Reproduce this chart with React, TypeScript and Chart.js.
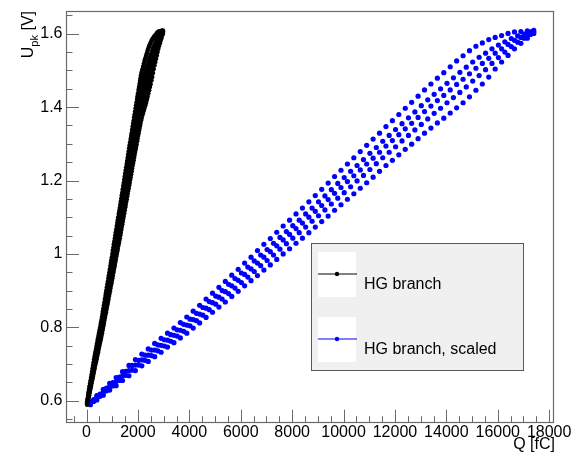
import React, { useEffect, useRef } from 'react';
import { Chart, registerables } from 'chart.js';

Chart.register(...registerables);

const FONT = '"Liberation Sans", Arial, Helvetica, sans-serif';

// Injected charge, HG branch [fC]
const Q_BLACK = [
  23, 42, 62, 81, 100, 119, 138, 158, 177, 196, 215, 235, 254, 273, 292, 312, 331, 350, 369, 389,
  408, 427, 446, 466, 485, 504, 523, 543, 562, 581, 600, 619, 638, 658, 677, 696, 715, 735, 754, 773,
  792, 812, 831, 850, 869, 889, 908, 927, 946, 966, 985, 1004, 1023, 1043, 1062, 1081, 1100, 1119, 1138, 1158,
  1177, 1196, 1215, 1235, 1254, 1273, 1292, 1312, 1331, 1350, 1369, 1389, 1408, 1427, 1446, 1466, 1485, 1504, 1523, 1543,
  1562, 1581, 1600, 1619, 1638, 1658, 1677, 1696, 1715, 1735, 1754, 1773, 1792, 1812, 1831, 1850, 1869, 1889, 1908, 1927,
  1946, 1966, 1985, 2004, 2023, 2043, 2062, 2081, 2100, 2119, 2138, 2168, 2198, 2228, 2257, 2287, 2317, 2347, 2376, 2406,
  2435, 2465, 2495, 2525, 2554, 2584, 2614, 2644, 2673, 2703, 2733, 2763, 2792, 2822, 2851, 2881, 2911, 2941, 2970,
];

// Injected charge, HG branch scaled [fC]
const Q_BLUE = [
  150, 275, 400, 525, 650, 775, 900, 1025, 1150, 1275, 1400, 1525, 1650, 1775, 1900, 2025, 2150, 2275, 2400, 2525,
  2650, 2775, 2900, 3025, 3150, 3275, 3400, 3525, 3650, 3775, 3900, 4025, 4150, 4275, 4400, 4525, 4650, 4775, 4900, 5025,
  5150, 5275, 5400, 5525, 5650, 5775, 5900, 6025, 6150, 6275, 6400, 6525, 6650, 6775, 6900, 7025, 7150, 7275, 7400, 7525,
  7650, 7775, 7900, 8025, 8150, 8275, 8400, 8525, 8650, 8775, 8900, 9025, 9150, 9275, 9400, 9525, 9650, 9775, 9900, 10025,
  10150, 10275, 10400, 10525, 10650, 10775, 10900, 11025, 11150, 11275, 11400, 11525, 11650, 11775, 11900, 12025, 12150, 12275, 12400, 12525,
  12650, 12775, 12900, 13025, 13150, 13275, 13400, 13525, 13650, 13775, 13900, 14025, 14150, 14275, 14400, 14525, 14650, 14775, 14900, 15025,
  15150, 15275, 15400, 15525, 15650, 15775, 15900, 16025, 16150, 16275, 16400, 16525, 16650, 16775, 16900, 17025, 17150, 17275, 17400,
];

// Peak voltage for each sweep [V]
const SWEEP_1 = [
  0.597, 0.605, 0.614, 0.623, 0.631, 0.639, 0.647, 0.655, 0.663, 0.671, 0.679, 0.688, 0.696, 0.704, 0.712, 0.720, 0.727, 0.734, 0.741, 0.749,
  0.756, 0.763, 0.770, 0.777, 0.784, 0.791, 0.798, 0.806, 0.813, 0.820, 0.828, 0.836, 0.844, 0.852, 0.860, 0.868, 0.877, 0.885, 0.893, 0.901,
  0.909, 0.917, 0.925, 0.934, 0.942, 0.950, 0.958, 0.967, 0.975, 0.983, 0.991, 1.000, 1.009, 1.017, 1.026, 1.034, 1.042, 1.051, 1.059, 1.067,
  1.076, 1.084, 1.092, 1.100, 1.109, 1.117, 1.125, 1.134, 1.142, 1.150, 1.159, 1.167, 1.176, 1.185, 1.193, 1.202, 1.211, 1.219, 1.228, 1.236,
  1.245, 1.253, 1.262, 1.271, 1.279, 1.288, 1.296, 1.304, 1.313, 1.321, 1.329, 1.338, 1.347, 1.355, 1.363, 1.372, 1.380, 1.388, 1.397, 1.405,
  1.413, 1.422, 1.430, 1.438, 1.447, 1.455, 1.463, 1.471, 1.479, 1.487, 1.494, 1.502, 1.510, 1.518, 1.526, 1.533, 1.540, 1.547, 1.554, 1.560,
  1.566, 1.571, 1.575, 1.580, 1.584, 1.587, 1.590, 1.593, 1.595, 1.598, 1.601, 1.603, 1.605, 1.606, 1.606, 1.607, 1.608, 1.608, 1.609,
];
const SWEEP_2 = [
  0.595, 0.603, 0.610, 0.618, 0.626, 0.634, 0.642, 0.649, 0.656, 0.664, 0.672, 0.680, 0.688, 0.696, 0.703, 0.710, 0.717, 0.724, 0.731, 0.738,
  0.745, 0.752, 0.759, 0.766, 0.773, 0.780, 0.786, 0.793, 0.800, 0.808, 0.815, 0.822, 0.830, 0.838, 0.846, 0.854, 0.862, 0.870, 0.877, 0.885,
  0.893, 0.900, 0.908, 0.917, 0.925, 0.933, 0.940, 0.948, 0.956, 0.964, 0.972, 0.981, 0.989, 0.997, 1.005, 1.012, 1.020, 1.029, 1.037, 1.045,
  1.053, 1.061, 1.069, 1.077, 1.085, 1.092, 1.100, 1.109, 1.117, 1.125, 1.133, 1.142, 1.150, 1.158, 1.166, 1.175, 1.183, 1.192, 1.200, 1.208,
  1.216, 1.225, 1.233, 1.241, 1.249, 1.257, 1.265, 1.274, 1.282, 1.290, 1.298, 1.307, 1.315, 1.323, 1.331, 1.339, 1.347, 1.355, 1.363, 1.371,
  1.379, 1.387, 1.395, 1.404, 1.412, 1.420, 1.427, 1.435, 1.442, 1.450, 1.457, 1.465, 1.472, 1.480, 1.488, 1.495, 1.502, 1.509, 1.516, 1.523,
  1.530, 1.536, 1.541, 1.547, 1.553, 1.559, 1.564, 1.569, 1.573, 1.578, 1.583, 1.587, 1.591, 1.594, 1.596, 1.599, 1.602, 1.605, 1.607,
];
const SWEEP_3 = [
  0.593, 0.600, 0.608, 0.616, 0.623, 0.630, 0.638, 0.645, 0.652, 0.660, 0.667, 0.675, 0.682, 0.690, 0.697, 0.704, 0.711, 0.718, 0.724, 0.731,
  0.738, 0.745, 0.751, 0.758, 0.765, 0.772, 0.778, 0.785, 0.792, 0.799, 0.806, 0.814, 0.821, 0.829, 0.836, 0.844, 0.852, 0.860, 0.867, 0.875,
  0.882, 0.889, 0.897, 0.905, 0.913, 0.920, 0.928, 0.936, 0.944, 0.951, 0.959, 0.967, 0.975, 0.983, 0.991, 0.998, 1.006, 1.014, 1.022, 1.030,
  1.038, 1.045, 1.053, 1.061, 1.069, 1.076, 1.084, 1.092, 1.100, 1.108, 1.116, 1.124, 1.132, 1.140, 1.148, 1.157, 1.165, 1.173, 1.181, 1.189,
  1.197, 1.205, 1.213, 1.221, 1.229, 1.237, 1.245, 1.253, 1.261, 1.269, 1.277, 1.286, 1.294, 1.301, 1.309, 1.317, 1.325, 1.333, 1.341, 1.348,
  1.356, 1.364, 1.372, 1.380, 1.388, 1.396, 1.403, 1.411, 1.418, 1.425, 1.432, 1.440, 1.447, 1.455, 1.462, 1.469, 1.476, 1.484, 1.491, 1.499,
  1.506, 1.512, 1.519, 1.526, 1.533, 1.540, 1.547, 1.553, 1.559, 1.565, 1.571, 1.577, 1.582, 1.586, 1.590, 1.594, 1.598, 1.602, 1.605,
];
const SWEEP_4 = [
  0.591, 0.598, 0.605, 0.612, 0.619, 0.627, 0.634, 0.640, 0.647, 0.655, 0.662, 0.669, 0.676, 0.683, 0.690, 0.697, 0.704, 0.710, 0.716, 0.723,
  0.730, 0.736, 0.742, 0.749, 0.756, 0.762, 0.769, 0.776, 0.783, 0.789, 0.796, 0.804, 0.811, 0.818, 0.825, 0.833, 0.841, 0.848, 0.855, 0.863,
  0.870, 0.877, 0.884, 0.892, 0.900, 0.907, 0.915, 0.922, 0.930, 0.937, 0.945, 0.952, 0.960, 0.968, 0.975, 0.982, 0.990, 0.997, 1.005, 1.013,
  1.021, 1.028, 1.035, 1.043, 1.051, 1.058, 1.066, 1.073, 1.081, 1.089, 1.097, 1.104, 1.112, 1.120, 1.128, 1.136, 1.144, 1.152, 1.160, 1.167,
  1.175, 1.183, 1.191, 1.199, 1.207, 1.214, 1.222, 1.230, 1.238, 1.246, 1.254, 1.262, 1.270, 1.277, 1.285, 1.292, 1.300, 1.308, 1.316, 1.323,
  1.330, 1.338, 1.346, 1.353, 1.361, 1.368, 1.376, 1.383, 1.391, 1.397, 1.404, 1.412, 1.419, 1.426, 1.433, 1.440, 1.447, 1.455, 1.463, 1.471,
  1.479, 1.486, 1.494, 1.502, 1.510, 1.519, 1.528, 1.535, 1.543, 1.550, 1.558, 1.565, 1.572, 1.577, 1.583, 1.588, 1.594, 1.598, 1.603,
];
const SWEEP_5 = [
  0.589, 0.595, 0.602, 0.609, 0.615, 0.622, 0.629, 0.635, 0.641, 0.648, 0.655, 0.661, 0.668, 0.675, 0.682, 0.688, 0.695, 0.701, 0.707, 0.713,
  0.720, 0.726, 0.732, 0.739, 0.746, 0.752, 0.758, 0.765, 0.771, 0.777, 0.784, 0.791, 0.798, 0.805, 0.812, 0.820, 0.827, 0.834, 0.841, 0.848,
  0.855, 0.862, 0.869, 0.876, 0.884, 0.891, 0.898, 0.906, 0.913, 0.920, 0.927, 0.934, 0.941, 0.949, 0.956, 0.963, 0.970, 0.978, 0.985, 0.993,
  1.000, 1.007, 1.014, 1.022, 1.029, 1.036, 1.043, 1.051, 1.058, 1.066, 1.073, 1.081, 1.088, 1.096, 1.103, 1.111, 1.119, 1.127, 1.134, 1.142,
  1.149, 1.157, 1.164, 1.172, 1.179, 1.187, 1.194, 1.202, 1.209, 1.217, 1.225, 1.233, 1.241, 1.248, 1.255, 1.263, 1.270, 1.278, 1.285, 1.292,
  1.299, 1.307, 1.314, 1.322, 1.329, 1.336, 1.343, 1.350, 1.357, 1.364, 1.370, 1.377, 1.384, 1.391, 1.398, 1.405, 1.412, 1.420, 1.428, 1.437,
  1.446, 1.455, 1.463, 1.473, 1.482, 1.493, 1.504, 1.514, 1.523, 1.532, 1.541, 1.550, 1.559, 1.567, 1.574, 1.581, 1.588, 1.595, 1.601,
];
const SWEEPS = [SWEEP_1, SWEEP_2, SWEEP_3, SWEEP_4, SWEEP_5];

// The scaled branch was recorded at every second charge step, sweeps alternating in phase
const BLUE_STRIDE = 2;
const BLUE_PHASE = [0, 1, 0, 1, 0];

const SERIES_LABELS = ['HG branch', 'HG branch, scaled'];
const SERIES_COLORS = ['#000000', '#0000ff'];

const X_MIN = -800;
const X_MAX = 18200;
const X_TICKS = [0, 2000, 4000, 6000, 8000, 10000, 12000, 14000, 16000, 18000];
const X_MINOR = 500;
const X_MAJOR = 2000;
const Y_MIN = 0.54;
const Y_MAX = 1.662;
const Y_TICKS = [0.6, 0.8, 1.0, 1.2, 1.4, 1.6];
const Y_MINOR = 0.05;
const Y_MAJOR = 0.2;

const X_TITLE = 'Q [fC]';
const Y_TITLE_MAIN = 'U';
const Y_TITLE_SUB = 'pk';
const Y_TITLE_UNIT = ' [V]';

const AXIS_COLOR = '#6a6a6a';

function buildPoints(q: number[], sweeps: number[][], stride = 1, phases: number[] = []) {
  const out: { x: number; y: number }[] = [];
  sweeps.forEach((s, si) => {
    const n = Math.min(q.length, s.length);
    for (let i = phases[si] || 0; i < n; i += stride) out.push({ x: q[i], y: s[i] });
  });
  return out;
}

const rootFramePlugin = {
  id: 'rootFrame',
  afterDraw(chart: any) {
    const { ctx, chartArea: a } = chart;
    const xs = chart.scales.x;
    const ys = chart.scales.y;
    ctx.save();
    ctx.strokeStyle = AXIS_COLOR;
    ctx.lineWidth = 1;
    ctx.beginPath();
    const kx0 = Math.ceil(xs.min / X_MINOR - 1e-9);
    const kx1 = Math.floor(xs.max / X_MINOR + 1e-9);
    const rx = Math.round(X_MAJOR / X_MINOR);
    for (let k = kx0; k <= kx1; k++) {
      const v = k * X_MINOR;
      const px = Math.round(xs.getPixelForValue(v)) + 0.5;
      const len = k % rx === 0 ? 13 : 6.5;
      ctx.moveTo(px, a.bottom);
      ctx.lineTo(px, a.bottom - len);
    }
    const ry = Math.round(Y_MAJOR / Y_MINOR);
    const ky0 = Math.ceil(ys.min / Y_MINOR - 1e-9);
    const ky1 = Math.floor(ys.max / Y_MINOR + 1e-9);
    for (let k = ky0; k <= ky1; k++) {
      const v = k * Y_MINOR;
      const py = Math.round(ys.getPixelForValue(v)) + 0.5;
      const len = k % ry === 0 ? 13 : 6.5;
      ctx.moveTo(a.left, py);
      ctx.lineTo(a.left + len, py);
    }
    ctx.stroke();
    ctx.lineWidth = 1.2;
    ctx.strokeRect(
      Math.round(a.left) + 0.5,
      Math.round(a.top) + 0.5,
      Math.round(a.right) - Math.round(a.left) - 1,
      Math.round(a.bottom) - Math.round(a.top) - 1
    );

    // axis titles
    ctx.fillStyle = '#000';
    ctx.font = `16px ${FONT}`;
    ctx.textAlign = 'right';
    ctx.textBaseline = 'alphabetic';
    ctx.fillText(X_TITLE, a.right + 0.7, 449);

    ctx.save();
    ctx.translate(33, a.top);
    ctx.rotate(-Math.PI / 2);
    ctx.textAlign = 'left';
    ctx.font = `16px ${FONT}`;
    const wU = ctx.measureText(Y_TITLE_MAIN).width;
    const wUnit = ctx.measureText(Y_TITLE_UNIT).width;
    ctx.font = `11px ${FONT}`;
    const wSub = ctx.measureText(Y_TITLE_SUB).width;
    let x = -(wU + wSub + wUnit);
    ctx.font = `16px ${FONT}`;
    ctx.fillText(Y_TITLE_MAIN, x, 0);
    x += wU;
    ctx.font = `11px ${FONT}`;
    ctx.fillText(Y_TITLE_SUB, x, 5);
    x += wSub;
    ctx.font = `16px ${FONT}`;
    ctx.fillText(Y_TITLE_UNIT, x, 0);
    ctx.restore();
    ctx.restore();
  },
};

const rootLegendPlugin = {
  id: 'rootLegend',
  afterDraw(chart: any) {
    const { ctx } = chart;
    const box = { x: 311.5, y: 243.5, w: 212, h: 127 };
    ctx.save();
    ctx.fillStyle = '#f0f0f0';
    ctx.fillRect(box.x, box.y, box.w, box.h);
    ctx.strokeStyle = '#5a5a5a';
    ctx.lineWidth = 1;
    ctx.strokeRect(box.x, box.y, box.w, box.h);
    const rows = [
      { sq: 252, line: 274, text: 288.5 },
      { sq: 317, line: 339, text: 353.5 },
    ];
    chart.data.datasets.forEach((ds: any, i: number) => {
      const r = rows[i];
      if (!r) return;
      ctx.fillStyle = '#ffffff';
      ctx.fillRect(318, r.sq, 38, 45);
      ctx.strokeStyle = ds.backgroundColor;
      ctx.lineWidth = 1;
      ctx.beginPath();
      ctx.moveTo(318, r.line);
      ctx.lineTo(357, r.line);
      ctx.stroke();
      ctx.fillStyle = ds.backgroundColor;
      ctx.beginPath();
      ctx.arc(337, r.line, 2.2, 0, Math.PI * 2);
      ctx.fill();
      ctx.fillStyle = '#000';
      ctx.font = `16px ${FONT}`;
      ctx.textAlign = 'left';
      ctx.textBaseline = 'alphabetic';
      ctx.fillText(ds.label, 364, r.text);
    });
    ctx.restore();
  },
};

export default function App() {
  const canvasRef = useRef<HTMLCanvasElement | null>(null);

  useEffect(() => {
    document.body.style.margin = '0';
    const canvas = canvasRef.current;
    if (!canvas) return;
    const chart = new Chart(canvas, {
      type: 'scatter',
      data: {
        datasets: [
          {
            label: SERIES_LABELS[0],
            data: buildPoints(Q_BLACK, SWEEPS),
            backgroundColor: SERIES_COLORS[0],
            borderColor: SERIES_COLORS[0],
            pointRadius: 2.3,
            pointHoverRadius: 2.3,
            pointBorderWidth: 0,
            showLine: false,
          },
          {
            label: SERIES_LABELS[1],
            data: buildPoints(Q_BLUE, SWEEPS, BLUE_STRIDE, BLUE_PHASE),
            backgroundColor: SERIES_COLORS[1],
            borderColor: SERIES_COLORS[1],
            pointRadius: 2.6,
            pointHoverRadius: 2.6,
            pointBorderWidth: 0,
            showLine: false,
          },
        ],
      },
      options: {
        animation: false,
        responsive: false,
        devicePixelRatio: 1,
        events: [],
        layout: { padding: { top: 11, right: 16.7, left: 0, bottom: 0 } },
        plugins: {
          legend: { display: false },
          tooltip: { enabled: false },
          title: { display: false },
        },
        scales: {
          x: {
            type: 'linear',
            min: X_MIN,
            max: X_MAX,
            grid: { display: false, drawTicks: false },
            border: { display: false },
            afterBuildTicks: (s: any) => {
              s.ticks = X_TICKS.map((v) => ({ value: v }));
            },
            ticks: {
              autoSkip: false,
              maxRotation: 0,
              minRotation: 0,
              padding: 0.5,
              color: '#000',
              font: { family: FONT, size: 16 },
              callback: (v: any) => String(v),
            },
            afterFit: (s: any) => {
              s.height = 39.3;
              s.paddingLeft = 0;
              s.paddingRight = 0;
            },
          },
          y: {
            type: 'linear',
            min: Y_MIN,
            max: Y_MAX,
            grid: { display: false, drawTicks: false },
            border: { display: false },
            afterBuildTicks: (s: any) => {
              s.ticks = Y_TICKS.map((v) => ({ value: v }));
            },
            ticks: {
              autoSkip: false,
              padding: 3.5,
              color: '#000',
              font: { family: FONT, size: 16 },
              callback: (v: any) => String(parseFloat(Number(v).toFixed(2))),
            },
            afterFit: (s: any) => {
              s.width = 66;
              s.paddingTop = 0;
              s.paddingBottom = 0;
            },
          },
        },
      } as any,
      plugins: [rootFramePlugin, rootLegendPlugin],
    });
    return () => chart.destroy();
  }, []);

  return (
    <div style={{ width: 571, height: 462 }}>
      <canvas ref={canvasRef} width={571} height={462} style={{ display: 'block' }} />
    </div>
  );
}
